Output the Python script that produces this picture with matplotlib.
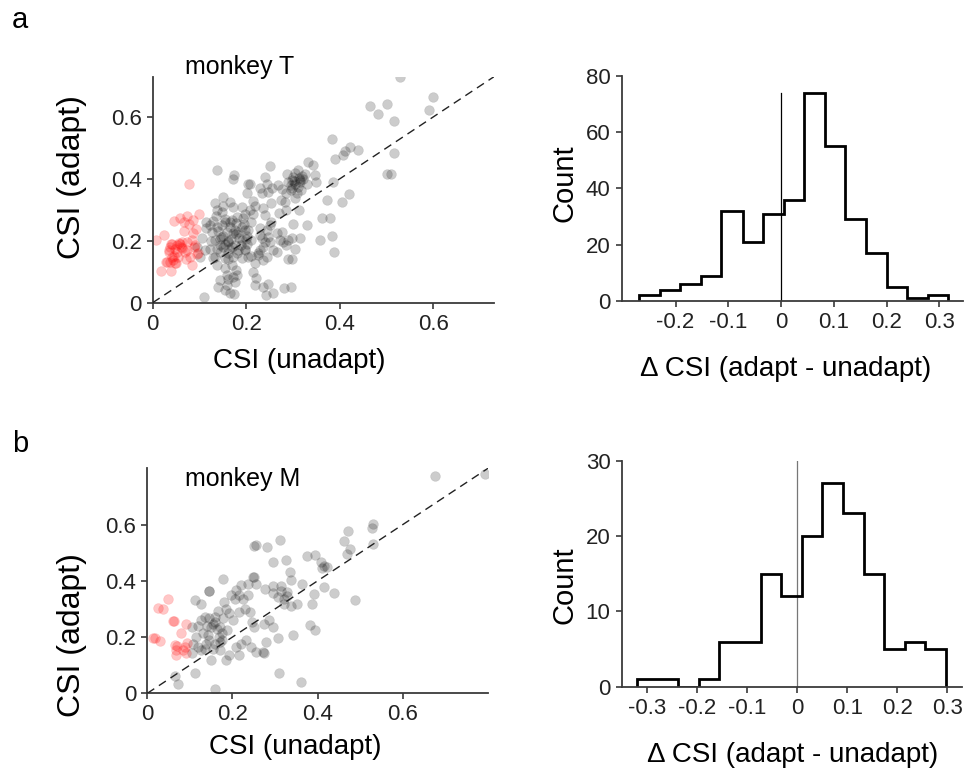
import numpy as np
import matplotlib
matplotlib.use("Agg")
from matplotlib import pyplot as plt

plt.rcParams['font.family'] = ['Liberation Sans', 'DejaVu Sans']

# ---- monkey T scatter: CSI (unadapt) vs CSI (adapt) ----
red_T = [(0.078, 0.382), (0.008, 0.201), (0.025, 0.220), (0.017, 0.102), (0.039, 0.104),
         (0.045, 0.264), (0.059, 0.272), (0.073, 0.281), (0.066, 0.262), (0.087, 0.267),
         (0.099, 0.286), (0.068, 0.232), (0.087, 0.224), (0.040, 0.190), (0.057, 0.192),
         (0.060, 0.180), (0.034, 0.165), (0.051, 0.165), (0.044, 0.138), (0.030, 0.130),
         (0.050, 0.127), (0.073, 0.170), (0.083, 0.122), (0.090, 0.186), (0.097, 0.159),
         (0.080, 0.149), (0.073, 0.197), (0.042, 0.189), (0.058, 0.189), (0.063, 0.178),
         (0.035, 0.170), (0.046, 0.150), (0.037, 0.132), (0.028, 0.132), (0.048, 0.127),
         (0.055, 0.148), (0.072, 0.140), (0.094, 0.157), (0.089, 0.181), (0.069, 0.164),
         (0.085, 0.203), (0.041, 0.149), (0.052, 0.185), (0.047, 0.175), (0.038, 0.180),
         (0.062, 0.195), (0.078, 0.255), (0.092, 0.238)]

gray_T = [(0.137, 0.430), (0.174, 0.412), (0.172, 0.398), (0.203, 0.385), (0.201, 0.355),
          (0.133, 0.323), (0.151, 0.312), (0.137, 0.299), (0.149, 0.294), (0.135, 0.280),
          (0.172, 0.310), (0.190, 0.310), (0.197, 0.288), (0.194, 0.272), (0.115, 0.261),
          (0.115, 0.240), (0.105, 0.208), (0.101, 0.149), (0.122, 0.251), (0.137, 0.243),
          (0.126, 0.229), (0.133, 0.202), (0.147, 0.213), (0.158, 0.229), (0.154, 0.261),
          (0.169, 0.267), (0.181, 0.278), (0.179, 0.256), (0.165, 0.245), (0.172, 0.224),
          (0.183, 0.229), (0.197, 0.235), (0.190, 0.202), (0.162, 0.197), (0.176, 0.186),
          (0.151, 0.181), (0.137, 0.175), (0.122, 0.175), (0.144, 0.165), (0.133, 0.149),
          (0.162, 0.159), (0.172, 0.149), (0.183, 0.170), (0.197, 0.172), (0.190, 0.143),
          (0.154, 0.143), (0.130, 0.143), (0.137, 0.122), (0.154, 0.111), (0.169, 0.122),
          (0.179, 0.106), (0.158, 0.089), (0.172, 0.084), (0.144, 0.073), (0.158, 0.057),
          (0.140, 0.052), (0.176, 0.068), (0.165, 0.030), (0.154, 0.041), (0.174, 0.028),
          (0.110, 0.019), (0.094, 0.181), (0.112, 0.170),
          (0.251, 0.441), (0.333, 0.455), (0.343, 0.444), (0.311, 0.430), (0.390, 0.463),
          (0.406, 0.477), (0.208, 0.385), (0.229, 0.372), (0.240, 0.407), (0.244, 0.385),
          (0.246, 0.358), (0.233, 0.355), (0.268, 0.380), (0.277, 0.366), (0.288, 0.415),
          (0.297, 0.396), (0.304, 0.385), (0.297, 0.372), (0.315, 0.391), (0.322, 0.401),
          (0.329, 0.385), (0.325, 0.417), (0.308, 0.353), (0.304, 0.337), (0.283, 0.326),
          (0.274, 0.331), (0.286, 0.353), (0.318, 0.364), (0.347, 0.412), (0.350, 0.390),
          (0.372, 0.331), (0.404, 0.326), (0.386, 0.390), (0.329, 0.251), (0.362, 0.275),
          (0.379, 0.275), (0.357, 0.202), (0.384, 0.215), (0.388, 0.165), (0.313, 0.301),
          (0.254, 0.323), (0.219, 0.312), (0.208, 0.301), (0.215, 0.286), (0.211, 0.261),
          (0.204, 0.235), (0.240, 0.283), (0.254, 0.261), (0.229, 0.240), (0.244, 0.234),
          (0.247, 0.213), (0.233, 0.208), (0.251, 0.197), (0.236, 0.181), (0.229, 0.170),
          (0.244, 0.148), (0.226, 0.154), (0.236, 0.138), (0.276, 0.229), (0.279, 0.197),
          (0.286, 0.186), (0.272, 0.202), (0.290, 0.202), (0.297, 0.208), (0.304, 0.175),
          (0.315, 0.208), (0.265, 0.165), (0.258, 0.170), (0.290, 0.140), (0.297, 0.140),
          (0.219, 0.127), (0.215, 0.100), (0.222, 0.079), (0.219, 0.057), (0.236, 0.050),
          (0.247, 0.062), (0.243, 0.025), (0.258, 0.032), (0.281, 0.049), (0.295, 0.052),
          (0.197, 0.170), (0.201, 0.191), (0.204, 0.148), (0.211, 0.202), (0.201, 0.215),
          (0.528, 0.728), (0.600, 0.664), (0.590, 0.622), (0.501, 0.643), (0.464, 0.634),
          (0.481, 0.609), (0.516, 0.586), (0.516, 0.482), (0.501, 0.417), (0.509, 0.415),
          (0.383, 0.529), (0.440, 0.493), (0.422, 0.503), (0.412, 0.489), (0.420, 0.351),
          (0.160, 0.200), (0.150, 0.215), (0.170, 0.180), (0.185, 0.210), (0.175, 0.235),
          (0.145, 0.185), (0.165, 0.260), (0.190, 0.245), (0.155, 0.270), (0.140, 0.230),
          (0.180, 0.160), (0.160, 0.140), (0.200, 0.205), (0.195, 0.255), (0.125, 0.200),
          (0.130, 0.265), (0.300, 0.405), (0.310, 0.375), (0.290, 0.390), (0.320, 0.410),
          (0.295, 0.365), (0.315, 0.395), (0.305, 0.420), (0.240, 0.195), (0.230, 0.220),
          (0.225, 0.160), (0.210, 0.150), (0.250, 0.250), (0.265, 0.225), (0.285, 0.300),
          (0.270, 0.290), (0.300, 0.255), (0.235, 0.305), (0.215, 0.330), (0.255, 0.370),
          (0.150, 0.340), (0.165, 0.325), (0.180, 0.090), (0.160, 0.075),
          (0.168, 0.205), (0.155, 0.190), (0.178, 0.222), (0.148, 0.250), (0.188, 0.185),
          (0.302, 0.392), (0.312, 0.402), (0.296, 0.380), (0.163, 0.172), (0.143, 0.205)]

# ---- monkey M scatter ----
red_M = [(0.049, 0.337), (0.026, 0.304), (0.036, 0.299), (0.061, 0.258), (0.090, 0.246),
         (0.078, 0.213), (0.014, 0.197), (0.018, 0.195), (0.030, 0.187), (0.065, 0.171),
         (0.070, 0.168), (0.067, 0.154), (0.067, 0.136), (0.088, 0.165), (0.090, 0.142),
         (0.093, 0.180), (0.084, 0.154), (0.062, 0.256)]

gray_M = [(0.145, 0.364), (0.145, 0.364), (0.178, 0.408), (0.113, 0.331), (0.125, 0.319),
          (0.104, 0.234), (0.119, 0.239), (0.127, 0.260), (0.135, 0.272), (0.146, 0.266),
          (0.154, 0.248), (0.166, 0.293), (0.177, 0.269), (0.163, 0.230), (0.150, 0.234),
          (0.170, 0.234), (0.176, 0.213), (0.168, 0.201), (0.142, 0.207), (0.146, 0.189),
          (0.114, 0.201), (0.107, 0.177), (0.119, 0.165), (0.135, 0.159), (0.127, 0.154),
          (0.139, 0.177), (0.158, 0.177), (0.170, 0.183), (0.154, 0.159), (0.170, 0.154),
          (0.104, 0.142), (0.150, 0.118), (0.184, 0.118), (0.191, 0.136), (0.216, 0.136),
          (0.209, 0.165), (0.220, 0.177), (0.232, 0.191), (0.244, 0.165), (0.246, 0.254),
          (0.240, 0.289), (0.216, 0.289), (0.230, 0.301), (0.224, 0.337), (0.216, 0.349),
          (0.236, 0.349), (0.205, 0.337), (0.197, 0.349), (0.209, 0.369), (0.220, 0.384),
          (0.236, 0.390), (0.248, 0.414), (0.181, 0.325), (0.191, 0.286), (0.184, 0.301),
          (0.111, 0.071), (0.065, 0.061), (0.072, 0.032), (0.160, 0.015), (0.201, 0.260),
          (0.187, 0.224), (0.160, 0.272),
          (0.675, 0.774), (0.794, 0.778), (0.531, 0.603), (0.527, 0.587), (0.471, 0.576),
          (0.463, 0.541), (0.475, 0.514), (0.468, 0.496), (0.529, 0.532), (0.312, 0.546),
          (0.282, 0.520), (0.255, 0.526), (0.251, 0.522), (0.294, 0.467), (0.325, 0.475),
          (0.376, 0.487), (0.394, 0.493), (0.408, 0.467), (0.411, 0.447), (0.415, 0.451),
          (0.422, 0.449), (0.335, 0.431), (0.338, 0.402), (0.251, 0.414), (0.255, 0.388),
          (0.276, 0.372), (0.296, 0.380), (0.314, 0.380), (0.315, 0.364), (0.328, 0.360),
          (0.329, 0.345), (0.320, 0.337), (0.296, 0.357), (0.307, 0.343), (0.321, 0.319),
          (0.337, 0.310), (0.352, 0.319), (0.364, 0.388), (0.391, 0.354), (0.387, 0.317),
          (0.415, 0.378), (0.438, 0.358), (0.487, 0.331), (0.382, 0.242), (0.394, 0.224),
          (0.343, 0.207), (0.306, 0.198), (0.296, 0.234), (0.286, 0.262), (0.273, 0.248),
          (0.279, 0.183), (0.271, 0.148), (0.273, 0.142), (0.251, 0.236), (0.255, 0.148),
          (0.310, 0.071), (0.360, 0.039),
          (0.140, 0.240), (0.160, 0.255), (0.130, 0.215), (0.175, 0.190)]

# ---- histograms of delta CSI ----
edges_T = [-0.269, -0.230, -0.191, -0.152, -0.113, -0.073, -0.034, 0.005,
           0.044, 0.083, 0.122, 0.161, 0.200, 0.239, 0.278, 0.317]
counts_T = [2, 4, 6, 9, 32, 21, 31, 36, 74, 55, 29, 17, 5, 1, 2]

edges_M = [-0.321, -0.280, -0.238, -0.197, -0.156, -0.114, -0.073, -0.032,
           0.009, 0.050, 0.092, 0.133, 0.174, 0.215, 0.256, 0.297]
counts_M = [1, 1, 0, 1, 6, 6, 15, 12, 20, 27, 23, 15, 5, 6, 5]

W, H = 973, 774
fig = plt.figure(figsize=(W / 100, H / 100), dpi=100)


def box(x0, y0, x1, y1):
    # pixel box -> figure fraction [left, bottom, width, height]
    return [x0 / W, 1 - y1 / H, (x1 - x0) / W, (y1 - y0) / H]


def fpos(x, y):
    return x / W, 1 - y / H


spine_c = '#3a3a3a'
tick_fs = 16


def style(ax):
    for s in ['top', 'right']:
        ax.spines[s].set_visible(False)
    for s in ['left', 'bottom']:
        ax.spines[s].set_color(spine_c)
        ax.spines[s].set_linewidth(1.3)
    ax.tick_params(direction='out', length=4, width=1.2, color=spine_c,
                   labelsize=tick_fs, labelcolor='#222222', pad=4)


def scatter_panel(ax, red, gray, lim, ticks):
    gx, gy = zip(*gray)
    rx, ry = zip(*red)
    ax.scatter(gx, gy, s=50, facecolor=(0, 0, 0, 0.2), edgecolor=(0, 0, 0, 0.08),
               linewidth=0.6, zorder=2)
    ax.scatter(rx, ry, s=50, facecolor=(1, 0, 0, 0.22), edgecolor=(1, 0, 0, 0.1),
               linewidth=0.6, zorder=2)
    ax.plot([0, lim], [0, lim], color='#222222', lw=1.0, ls=(0, (6, 4)), zorder=3)
    ax.set_xlim(0, lim)
    ax.set_ylim(0, lim)
    ax.set_xticks(ticks)
    ax.set_yticks(ticks)
    ax.set_xticklabels(['0'] + ['%.1f' % t for t in ticks[1:]])
    ax.set_yticklabels(['0'] + ['%.1f' % t for t in ticks[1:]])
    style(ax)


def hist_panel(ax, edges, counts, xlim, ylim, xticks, yticks, vline_top, vcolor):
    ax.plot([0, 0], [0, vline_top], color=vcolor, lw=0.9, zorder=1)
    ax.stairs(counts, edges, color='black', lw=2.0, baseline=0, zorder=2)
    ax.set_xlim(*xlim)
    ax.set_ylim(*ylim)
    ax.set_xticks(xticks)
    ax.set_yticks(yticks)
    ax.set_xticklabels(['0' if t == 0 else '%.1f' % t for t in xticks])
    style(ax)


ax1 = fig.add_axes(box(152.7, 76.7, 494, 302.7))
scatter_panel(ax1, red_T, gray_T, 0.73, [0, 0.2, 0.4, 0.6])

ax2 = fig.add_axes(box(621.7, 76, 963, 301))
hist_panel(ax2, edges_T, counts_T, (-0.302, 0.345), (0, 80),
           [-0.2, -0.1, 0, 0.1, 0.2, 0.3], [0, 20, 40, 60, 80], 74, 'black')

ax3 = fig.add_axes(box(147.3, 468.3, 488, 693.3))
scatter_panel(ax3, red_M, gray_M, 0.80, [0, 0.2, 0.4, 0.6])

ax4 = fig.add_axes(box(621.7, 460.7, 961.7, 686.7))
hist_panel(ax4, edges_M, counts_M, (-0.351, 0.329), (0, 30),
           [-0.3, -0.2, -0.1, 0, 0.1, 0.2, 0.3], [0, 10, 20, 30], 30, '#777777')

# labels
lab_fs = 20
fig.text(*fpos(299, 361), 'CSI (unadapt)', fontsize=lab_fs, ha='center', va='center')
fig.text(*fpos(295, 747), 'CSI (unadapt)', fontsize=lab_fs, ha='center', va='center')
fig.text(*fpos(786, 369), 'Δ CSI (adapt - unadapt)', fontsize=lab_fs, ha='center', va='center')
fig.text(*fpos(793, 755), 'Δ CSI (adapt - unadapt)', fontsize=lab_fs, ha='center', va='center')
fig.text(*fpos(72, 177), 'CSI (adapt)', fontsize=23, rotation=90, ha='center', va='center')
fig.text(*fpos(72, 635), 'CSI (adapt)', fontsize=23, rotation=90, ha='center', va='center')
fig.text(*fpos(565, 183), 'Count', fontsize=21, rotation=90, ha='center', va='center')
fig.text(*fpos(565, 585), 'Count', fontsize=21, rotation=90, ha='center', va='center')
fig.text(*fpos(185, 74), 'monkey T', fontsize=18, ha='left', va='baseline')
fig.text(*fpos(185, 486), 'monkey M', fontsize=18, ha='left', va='baseline')
fig.text(*fpos(12, 28), 'a', fontsize=21, ha='left', va='baseline')
fig.text(*fpos(12, 452), 'b', fontsize=21, ha='left', va='baseline')

fig.savefig("out.png", dpi=100)
